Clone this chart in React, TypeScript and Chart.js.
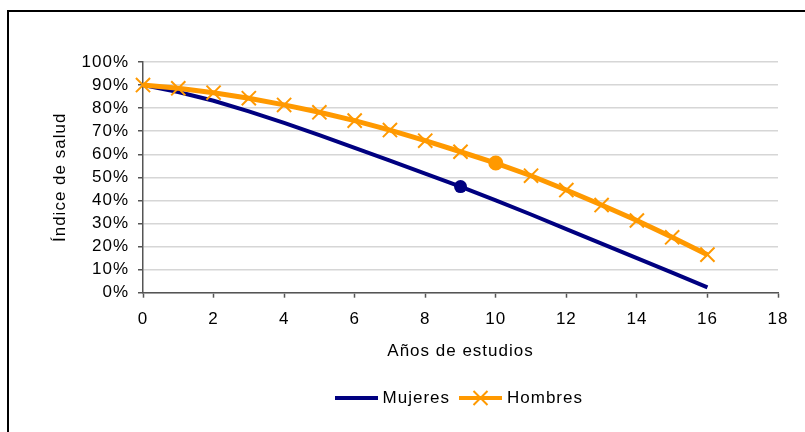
import React, { useEffect, useRef } from 'react';
import { Chart, registerables } from 'chart.js';

Chart.register(...registerables);

// Years of schooling (x) and health index (share, 0..1) for each group
const YEARS = [0, 1, 2, 3, 4, 5, 6, 7, 8, 9, 10, 11, 12, 13, 14, 15, 16];
const MUJERES = [0.9, 0.87, 0.832, 0.786, 0.736, 0.683, 0.628, 0.572, 0.516, 0.46, 0.4, 0.339, 0.276, 0.213, 0.15, 0.087, 0.023];
const HOMBRES = [0.9, 0.886, 0.867, 0.843, 0.814, 0.782, 0.746, 0.705, 0.659, 0.611, 0.562, 0.507, 0.445, 0.38, 0.313, 0.24, 0.165];
const SERIES_NAMES = ['Mujeres', 'Hombres'];
// Highlighted observation of each series (index into YEARS)
const MUJERES_MARK = 9;
const HOMBRES_MARK = 10;

const X_TITLE = 'Años de estudios';
const Y_TITLE = 'Índice de salud';
const X_MIN = 0;
const X_MAX = 18;
const X_STEP = 2;
const Y_MIN = 0;
const Y_MAX = 1;
const Y_STEP = 0.1;

const NAVY = '#000080';
const ORANGE = '#FF9900';
const AXIS = '#555555';
const GRID = '#d6d6d6';
const FONT_FAMILY = '"Liberation Sans", Arial, Helvetica, sans-serif';
const FONT = { family: FONT_FAMILY, size: 17 };
const LETTER_SPACING = '1px';

// Legend swatch: a short line segment, optionally with a cross marker in the middle
function makeSwatch(color: string, lineWidth: number, withCross: boolean): HTMLCanvasElement {
  const c = document.createElement('canvas');
  c.width = 43;
  c.height = 16;
  const g = c.getContext('2d')!;
  g.strokeStyle = color;
  g.lineWidth = lineWidth;
  g.beginPath();
  g.moveTo(0, 8);
  g.lineTo(43, 8);
  g.stroke();
  if (withCross) {
    const cx = 21.5;
    const r = 7;
    g.lineWidth = 2;
    g.beginPath();
    g.moveTo(cx - r, 8 - r);
    g.lineTo(cx + r, 8 + r);
    g.moveTo(cx + r, 8 - r);
    g.lineTo(cx - r, 8 + r);
    g.stroke();
  }
  return c;
}

// Wider text tracking for every label drawn on the canvas
const letterSpacingPlugin = {
  id: 'letterSpacing',
  afterInit(chart: any) {
    chart.ctx.letterSpacing = LETTER_SPACING;
  },
  beforeUpdate(chart: any) {
    chart.ctx.letterSpacing = LETTER_SPACING;
  },
  beforeDraw(chart: any) {
    chart.ctx.letterSpacing = LETTER_SPACING;
  },
};

export default function App() {
  const canvasRef = useRef<HTMLCanvasElement | null>(null);

  useEffect(() => {
    const canvas = canvasRef.current;
    if (!canvas) return;
    const swatches = [makeSwatch(NAVY, 4, false), makeSwatch(ORANGE, 4, true)];

    const chart = new Chart(canvas, {
      type: 'line',
      data: {
        datasets: [
          {
            label: SERIES_NAMES[0],
            data: YEARS.map((x, i) => ({ x, y: MUJERES[i] })),
            borderColor: NAVY,
            backgroundColor: NAVY,
            borderWidth: 4,
            pointStyle: 'circle',
            pointRadius: (ctx: any) => (ctx.dataIndex === MUJERES_MARK ? 6.5 : 0),
            pointHoverRadius: (ctx: any) => (ctx.dataIndex === MUJERES_MARK ? 6.5 : 0),
            pointBackgroundColor: NAVY,
            pointBorderColor: NAVY,
            pointBorderWidth: 0,
            order: 1,
            clip: false as any,
          },
          {
            label: SERIES_NAMES[1],
            data: YEARS.map((x, i) => ({ x, y: HOMBRES[i] })),
            borderColor: ORANGE,
            backgroundColor: ORANGE,
            borderWidth: 5,
            pointStyle: (ctx: any) => (ctx.dataIndex === HOMBRES_MARK ? 'circle' : 'crossRot'),
            pointRadius: (ctx: any) => (ctx.dataIndex === HOMBRES_MARK ? 6.5 : 10),
            pointHoverRadius: (ctx: any) => (ctx.dataIndex === HOMBRES_MARK ? 6.5 : 10),
            pointBackgroundColor: ORANGE,
            pointBorderColor: ORANGE,
            pointBorderWidth: 2,
            order: 0,
            clip: false as any,
          },
        ],
      },
      options: {
        responsive: false,
        animation: false,
        events: [],
        layout: { padding: { left: 0, right: 27, top: 62, bottom: 15.5 } },
        plugins: {
          tooltip: { enabled: false },
          legend: {
            position: 'bottom',
            fullSize: false,
            labels: {
              usePointStyle: true,
              pointStyleWidth: 36,
              padding: 12.5,
              color: '#000',
              font: FONT,
              sort: (a: any, b: any) => a.datasetIndex - b.datasetIndex,
              generateLabels: (ch: any) =>
                Chart.defaults.plugins.legend.labels.generateLabels(ch).map((item: any) => ({
                  ...item,
                  pointStyle: swatches[item.datasetIndex],
                  rotation: 0,
                })),
            },
          },
        },
        scales: {
          x: {
            type: 'linear',
            min: X_MIN,
            max: X_MAX,
            ticks: { stepSize: X_STEP, padding: 11.5, color: '#000', font: FONT, autoSkip: false },
            grid: { drawOnChartArea: false, tickLength: 5, tickColor: AXIS, tickWidth: 1.5 },
            border: { color: AXIS, width: 1.5 },
            title: {
              display: true,
              text: X_TITLE,
              color: '#000',
              font: FONT,
              padding: { top: 13, bottom: 15 },
            },
            afterFit: (scale: any) => {
              scale.height = 84.3;
            },
          },
          y: {
            min: Y_MIN,
            max: Y_MAX,
            ticks: {
              stepSize: Y_STEP,
              padding: 9,
              color: '#000',
              font: FONT,
              autoSkip: false,
              callback: (v: any) => Math.round(Number(v) * 100) + '%',
            },
            grid: { color: GRID, lineWidth: 1.5, tickColor: AXIS, tickLength: 5, tickWidth: 1.5 },
            border: { color: AXIS, width: 1.5 },
            title: {
              display: true,
              text: Y_TITLE,
              color: '#000',
              font: FONT,
              padding: { top: 50, bottom: 0 },
            },
            afterFit: (scale: any) => {
              scale.width = 143;
            },
          },
        },
      } as any,
      plugins: [letterSpacingPlugin],
    });

    return () => chart.destroy();
  }, []);

  return (
    <div style={{ position: 'fixed', left: 0, top: 0, width: 805, height: 432, background: '#fff', overflow: 'hidden' }}>
      <canvas ref={canvasRef} width={805} height={432} style={{ display: 'block', position: 'absolute', left: 0, top: 0 }} />
      <div
        style={{
          position: 'absolute',
          left: 7,
          top: 10,
          width: 798,
          height: 422,
          boxSizing: 'border-box',
          borderTop: '2px solid #000',
          borderLeft: '2px solid #000',
          pointerEvents: 'none',
        }}
      />
    </div>
  );
}
